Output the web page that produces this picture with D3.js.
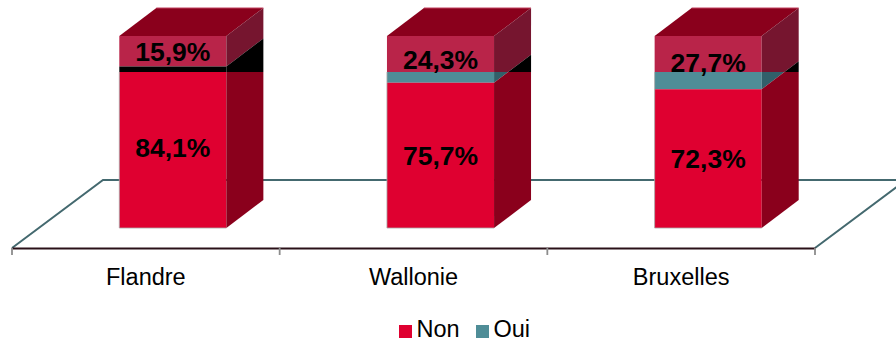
<!DOCTYPE html>
<html><head><meta charset="utf-8">
<script src="https://cdnjs.cloudflare.com/ajax/libs/d3/7.8.5/d3.min.js"></script>
<style>html,body{margin:0;padding:0;background:#fff}svg{display:block}text{font-family:"Liberation Sans",Arial,sans-serif;fill:#000}</style>
</head><body><svg id="c" width="896" height="342"></svg>
<script>
const categories = ["Flandre","Wallonie","Bruxelles"];
const nonValues = [84.1,75.7,72.3];
const ouiValues = [15.9,24.3,27.7];
const nonLabels = ["84,1%","75,7%","72,3%"];
const ouiLabels = ["15,9%","24,3%","27,7%"];
const seriesNames = ["Non","Oui"];
const overlapLevel = 81.25; // level at which the source rendering swaps its fills

const svg = d3.select("#c");
const floor = {x0:12,x1:815,y:248,dx:91,dy:68};
const depth = {dx:37,dy:28};
const shift = {x:(floor.dx-depth.dx)/2,y:(floor.dy-depth.dy)/2};
const x = d3.scaleBand().domain(categories).range([floor.x0,floor.x1]);
const barW = x.step()*0.4;
const y = d3.scaleLinear().domain([0,100]).range([floor.y-shift.y,36]);
const col = {red:"#DF0030",redSide:"#8A001C",redTop:"#8A001C",crim:"#B92449",crimSide:"#76152F",teal:"#4F8D97",tealSide:"#31606A",black:"#000",axis:"#44696F",tick:"#8c8c8c"};

const defs = svg.append("defs");
const T = y(overlapLevel);
defs.append("clipPath").attr("id","above").append("rect").attr("x",0).attr("y",0).attr("width",896).attr("height",T);
defs.append("clipPath").attr("id","below").append("rect").attr("x",0).attr("y",T).attr("width",896).attr("height",342-T);

// floor
const line = d3.line();
svg.append("path").attr("fill","none").attr("stroke",col.axis).attr("stroke-width",2)
  .attr("d",line([[floor.x0,floor.y],[floor.x0+floor.dx,floor.y-floor.dy],[floor.x1+floor.dx,floor.y-floor.dy],[floor.x1,floor.y]]));

// axis
const axis = d3.axisBottom(x).tickSize(0).tickPadding(0);
const gAxis = svg.append("g").attr("transform",`translate(0,${floor.y})`).call(axis);
gAxis.select(".domain").attr("stroke","#2a1018").attr("stroke-width",2);
gAxis.selectAll("text").attr("font-size",23.5).attr("dy",0).attr("y",36.5).attr("font-family","Liberation Sans");
gAxis.selectAll("line.edge").data(d3.range(categories.length+1)).enter().append("line").attr("class","edge")
  .attr("x1",i=>floor.x0+i*x.step()).attr("x2",i=>floor.x0+i*x.step()).attr("y1",0).attr("y2",7)
  .attr("stroke",col.tick).attr("stroke-width",1.8);

const poly = (g,pts,fill)=>g.append("polygon").attr("points",pts.map(p=>p.join(",")).join(" ")).attr("fill",fill);

categories.forEach((c,i)=>{
  const xl = x(c)+x.bandwidth()/2 - barW/2 + shift.x, xr = xl+barW;
  const y0 = y(0), yS = y(nonValues[i]), yT = y(nonValues[i]+ouiValues[i]);
  const d=depth;
  const g = svg.append("g");
  const frontU=[[xl,yT],[xr,yT],[xr,yS],[xl,yS]], frontL=[[xl,yS],[xr,yS],[xr,y0],[xl,y0]];
  const sideU=[[xr,yT],[xr+d.dx,yT-d.dy],[xr+d.dx,yS-d.dy],[xr,yS]], sideL=[[xr,yS],[xr+d.dx,yS-d.dy],[xr+d.dx,y0-d.dy],[xr,y0]];
  poly(g,[[xl,yT],[xl+d.dx,yT-d.dy],[xr+d.dx,yT-d.dy],[xr,yT]],col.redTop);
  const a=g.append("g").attr("clip-path","url(#above)");
  poly(a,frontU,col.crim);poly(a,sideU,col.crimSide);poly(a,frontL,col.black);poly(a,sideL,col.black);
  const b=g.append("g").attr("clip-path","url(#below)");
  poly(b,frontU,col.teal);poly(b,sideU,col.tealSide);poly(b,frontL,col.red);poly(b,sideL,col.redSide);
  // edges
  g.append("path").attr("fill","none").attr("stroke","#c0405f").attr("stroke-width",1).attr("d",line([[xl+d.dx,yT-d.dy],[xr+d.dx,yT-d.dy]]));
  g.append("path").attr("fill","none").attr("stroke","#a8a8a8").attr("stroke-width",0.8).attr("d",line([[xl,T],[xl,y0],[xr,y0]]));
  g.append("text").attr("x",xl+barW/2).attr("y",(y0+yS)/2).attr("dy","0.36em").attr("text-anchor","middle").attr("font-size",26.5).attr("font-weight","bold").text(nonLabels[i]);
  g.append("text").attr("x",xl+barW/2).attr("y",(yS+yT)/2).attr("dy","0.36em").attr("text-anchor","middle").attr("font-size",26.5).attr("font-weight","bold").text(ouiLabels[i]);
});

// legend
const lx = d3.scaleOrdinal().domain(seriesNames).range([399,476]);
const lc = d3.scaleOrdinal().domain(seriesNames).range([col.red,col.teal]);
const gl = svg.append("g");
seriesNames.forEach(n=>{
  gl.append("rect").attr("x",lx(n)).attr("y",325).attr("width",13).attr("height",13).attr("fill",lc(n));
  gl.append("text").attr("x",lx(n)+17.5).attr("y",337).attr("font-size",23.5).text(n);
});
</script></body></html>
